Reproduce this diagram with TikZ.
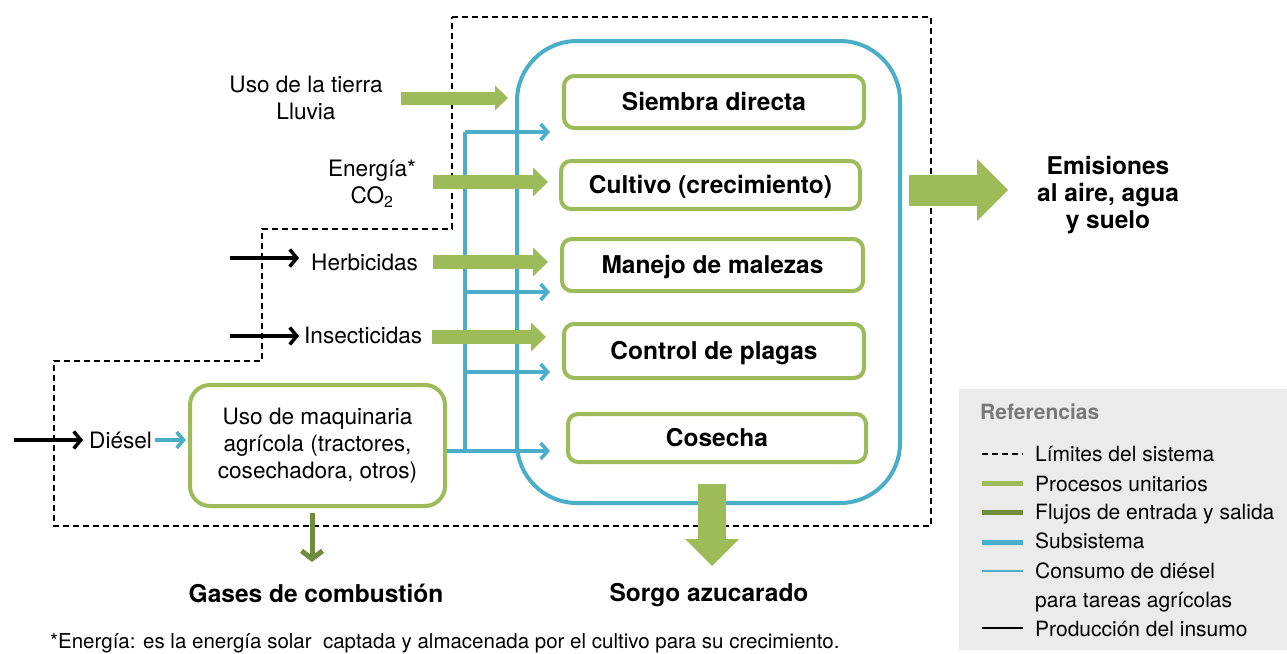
\documentclass[tikz,border=0pt]{standalone}
\usepackage{fontspec}
\setmainfont{TeX Gyre Heros}
\usetikzlibrary{arrows.meta}
\definecolor{pgreen}{RGB}{157,188,89}
\definecolor{dgreen}{RGB}{112,140,60}
\definecolor{sblue}{RGB}{75,174,200}
\definecolor{lgray}{RGB}{235,235,235}
\definecolor{tgray}{RGB}{120,120,120}
\begin{document}
\begin{tikzpicture}[x=1pt,y=-1pt,
  normaltext/.style={font=\fontsize{22.6}{27}\selectfont, align=center, inner sep=0pt},
  boldtext/.style={font=\bfseries\fontsize{24.5}{27}\selectfont, align=center, inner sep=0pt},
  legtext/.style={font=\fontsize{21}{24}\selectfont, anchor=base west, inner sep=0pt},
  procbox/.style={draw=pgreen, line width=4pt, rounded corners=10pt, fill=white,
    font=\bfseries\fontsize{24.5}{28}\selectfont, text height=17.5pt, text depth=0pt, inner sep=0pt},
  subsys/.style={draw=sblue, line width=4pt, rounded corners=60pt, inner sep=0pt},
  limitline/.style={draw=black, line width=1.4pt, dash pattern=on 6pt off 4pt},
  greenarrow/.style={draw=pgreen, line width=13.5pt, -{Triangle[length=15pt,width=29pt,line width=0pt]}},
  bluearrow/.style={draw=sblue, line width=3.6pt, line cap=butt, -{Straight Barb[length=7pt,width=16pt]}},
  blueline/.style={draw=sblue, line width=3.6pt, line cap=butt},
  blackarrow/.style={draw=black, line width=3.5pt, -{Straight Barb[length=7pt,width=17pt]}}
]
\useasboundingbox (0,0) rectangle (1287,653);
\clip (0,0) rectangle (1287,653);

% system boundary
\draw[limitline] (452,17) -- (931,17) -- (931,526) -- (54,526) -- (54,361) -- (262,361) -- (262,229) -- (452,229) -- cycle;

% subsystem
\node[subsys, minimum width=383pt, minimum height=462pt] (sub) at (708.5,272) {};

% unit processes
\node[procbox, minimum width=300pt, minimum height=52pt] (siembra) at (714,102) {Siembra directa};
\node[procbox, minimum width=299pt, minimum height=48pt] (cultivo) at (710.5,185) {Cultivo (crecimiento)};
\node[procbox, minimum width=301pt, minimum height=52pt] (manejo) at (712.5,265) {Manejo de malezas};
\node[procbox, minimum width=300pt, minimum height=54pt] (control) at (714,351) {Control de plagas};
\node[procbox, minimum width=298pt, minimum height=48pt] (cosecha) at (717,438) {Cosecha};

\node[draw=pgreen, line width=4pt, rounded corners=20pt, fill=white, minimum width=255pt, minimum height=121pt,
  font=\fontsize{22.6}{27}\selectfont, align=center, inner sep=0pt] (maq) at (317.5,445.5)
  {Uso de maquinaria\\agrícola (tractores,\\cosechadora, otros)};

% input labels
\node[normaltext] (uso) at (306,98) {Uso de la tierra\\Lluvia};
\node[normaltext] (energia) at (372,184) {Energía*\\CO\textsubscript{2}};
\node[normaltext, anchor=west] (herb) at (311,262) {Herbicidas};
\node[normaltext, anchor=west] (insect) at (304,335) {Insecticidas};
\node[normaltext, anchor=west] (diesel) at (89,440) {Diésel};

% outputs
\node[boldtext] (emis) at (1108,195) {Emisiones\\al aire, agua\\y suelo};
\node[boldtext] (gases) at (316,593) {Gases de combustión};
\node[boldtext] (sorgo) at (709,595.5) {Sorgo azucarado};

% blue diesel distribution lines
\coordinate (bj) at (465,451);
\coordinate (bt) at (465,132);
\coordinate (b2) at (465,292);
\coordinate (b3) at (465,372);
\draw[blueline] (bj) -- (bt);
\draw[bluearrow, shorten >=12pt] (bt) -- (bt -| siembra.west);
\draw[bluearrow, shorten >=10pt] (b2) -- (b2 -| manejo.west);
\draw[bluearrow, shorten >=12pt] (b3) -- (b3 -| control.west);
\draw[bluearrow, shorten >=16pt] (maq.east |- bj) -- (bj -| cosecha.west);
\draw[bluearrow, shorten >=2pt] (155,440) -- (maq.west |- 0,440);

% black production arrows
\coordinate (kh) at (230,258);
\coordinate (ki) at (230,336);
\coordinate (kd) at (14,440);
\draw[blackarrow] (kh) -- ([xshift=-12pt]kh -| herb.west);
\draw[blackarrow] (ki) -- ([xshift=-5pt]ki -| insect.west);
\draw[blackarrow] (kd) -- ([xshift=-6pt]kd -| diesel.west);

% green input arrows
\coordinate (gu) at (401,98);
\coordinate (ge) at (433,182);
\coordinate (gh) at (433,262);
\coordinate (gi) at (432,337);
\draw[draw=pgreen, line width=13pt, -{Triangle[length=13pt,width=25pt,line width=0pt]}, shorten >=7pt] (gu) -- (gu -| sub.west);
\draw[greenarrow, shorten >=11pt] (ge) -- (ge -| cultivo.west);
\draw[greenarrow, shorten >=12pt] (gh) -- (gh -| manejo.west);
\draw[greenarrow, shorten >=16pt] (gi) -- (gi -| control.west);

% output arrows
\coordinate (em1) at (909,190);
\coordinate (em2) at (1008,190);
\draw[draw=pgreen, line width=31pt, -{Triangle[length=31pt,width=62pt,line width=0pt]}] (em1) -- (em2);
\coordinate (so1) at (712,484);
\coordinate (so2) at (712,566);
\draw[draw=pgreen, line width=28pt, -{Triangle[length=27pt,width=54pt,line width=0pt]}] (so1) -- (so2);
\coordinate (ga1) at (312,513);
\coordinate (ga2) at (312,562);
\draw[draw=dgreen, line width=5pt, -{Straight Barb[length=8pt,width=21pt]}] (ga1) -- (ga2);

% footnote
\node[anchor=base west, font=\fontsize{20.5}{22}\selectfont, inner sep=0pt] (foot) at (50,648)
  {*Energía: es la energía solar~ captada y almacenada por el cultivo para su crecimiento.};

% legend
\fill[lgray] (959,389) rectangle (1287,650);
\node[anchor=base west, font=\bfseries\fontsize{21}{24}\selectfont, text=tgray, inner sep=0pt] (reftitle) at (980,419) {Referencias};
\draw[limitline] (982,454) -- (1023,454);
\draw[draw=pgreen, line width=5pt] (982,483) -- (1023,483);
\draw[draw=dgreen, line width=5pt] (982,512) -- (1023,512);
\draw[draw=sblue, line width=5pt] (982,542) -- (1023,542);
\draw[draw=sblue, line width=1.6pt] (982,571) -- (1023,571);
\draw[draw=black, line width=1.6pt] (982,628) -- (1023,628);
\node[legtext] (l1) at (1035,461) {Límites del sistema};
\node[legtext] (l2) at (1035,491) {Procesos unitarios};
\node[legtext] (l3) at (1035,519) {Flujos de entrada y salida};
\node[legtext] (l4) at (1035,548) {Subsistema};
\node[legtext] (l5) at (1035,578) {Consumo de diésel};
\node[legtext] (l6) at (1035,607) {para tareas agrícolas};
\node[legtext] (l7) at (1035,636) {Producción del insumo};
\end{tikzpicture}
\end{document}
